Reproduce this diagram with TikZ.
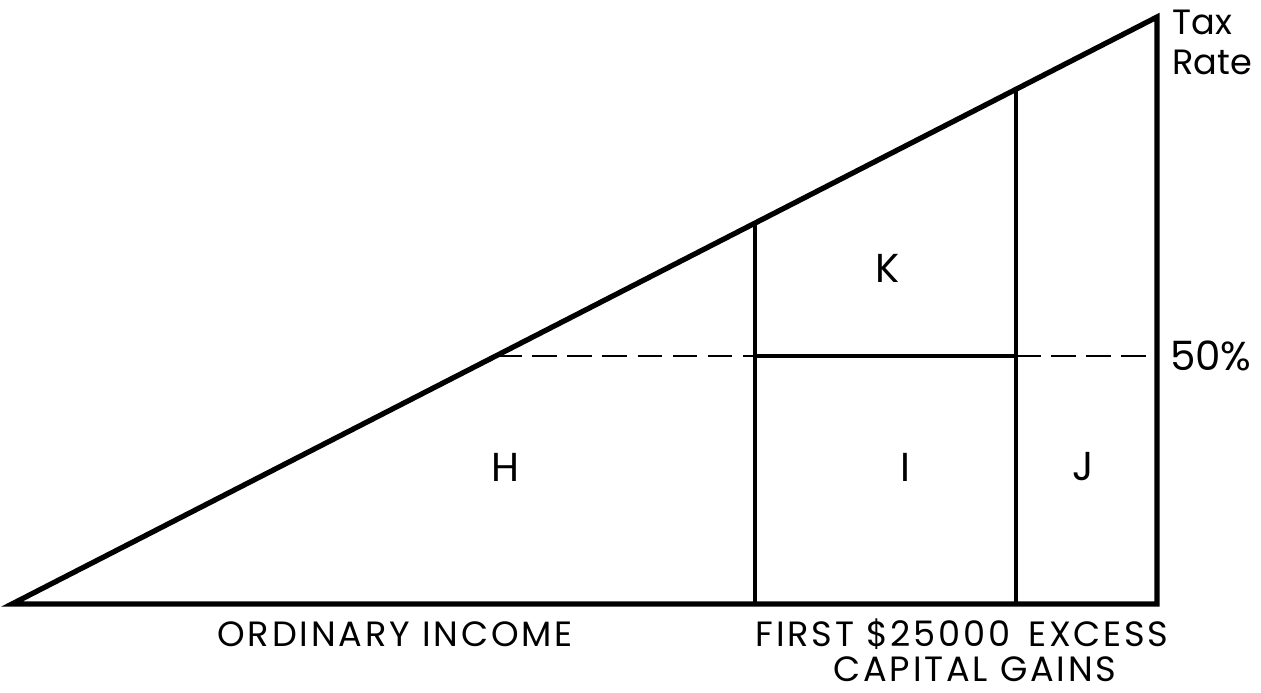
\documentclass[tikz,border=0pt]{standalone}
\usepackage{fontspec}
\setmainfont{Poppins}
\newfontfamily\lblfont[LetterSpace=8]{Poppins}
\usetikzlibrary{calc}

\begin{document}
\begin{tikzpicture}[
  x=0.02cm, y=-0.02cm,
  edge/.style={line width=3pt, line join=miter},
  wall/.style={line width=2.2pt},
  rate/.style={line width=1.3pt, dash pattern=on 14pt off 6pt},
  area/.style={font=\fontsize{23}{24}\selectfont},
  axis/.style={font=\lblfont\fontsize{20}{22}\selectfont, align=center},
]
  \useasboundingbox (0,0) rectangle (1261,693);

  % Corners of the triangle
  \coordinate (orig) at (12,604);
  \coordinate (top) at (1157,17);
  \coordinate (base) at (1157,604);
  \coordinate (firstTop) at (755,224);
  \coordinate (firstBot) at (755,604);
  \coordinate (excTop) at (1016,90);
  \coordinate (excBot) at (1016,604);
  \coordinate (halfL) at (497,356);
  \coordinate (halfA) at (755,356);
  \coordinate (halfB) at (1016,356);
  \coordinate (halfR) at (1157,356);

  % Triangle
  \draw[edge] (orig) -- (top) -- (base) -- cycle;
  \draw[wall] (firstTop) -- (firstBot);
  \draw[wall] (excTop) -- (excBot);
  \draw[wall] (halfA) -- (halfB);

  % 50% level
  \draw[rate] (halfL) -- (halfA);
  \draw[rate] (halfB) -- (halfR);

  % Area labels
  \node[area] (h) at (505,467) {H};
  \node[area] (i) at (905,467) {I};
  \node[area] (j) at (1083,467) {J};
  \node[area] (k) at (888,268) {K};

  % Axis labels
  \node[area, anchor=west] (half) at (1164,356) {50\%};
  \node[area, anchor=north west, align=left, inner sep=0pt,
        font=\fontsize{20}{22.5}\selectfont] (taxrate) at (1172,10) {Tax\\Rate};
  \node[axis] (ordinary) at (395,634) {ORDINARY INCOME};
  \node[axis] (first) at (962,634) {FIRST \$25000\enspace EXCESS};
  \node[axis] (capital) at (975,669) {CAPITAL GAINS};
\end{tikzpicture}
\end{document}
